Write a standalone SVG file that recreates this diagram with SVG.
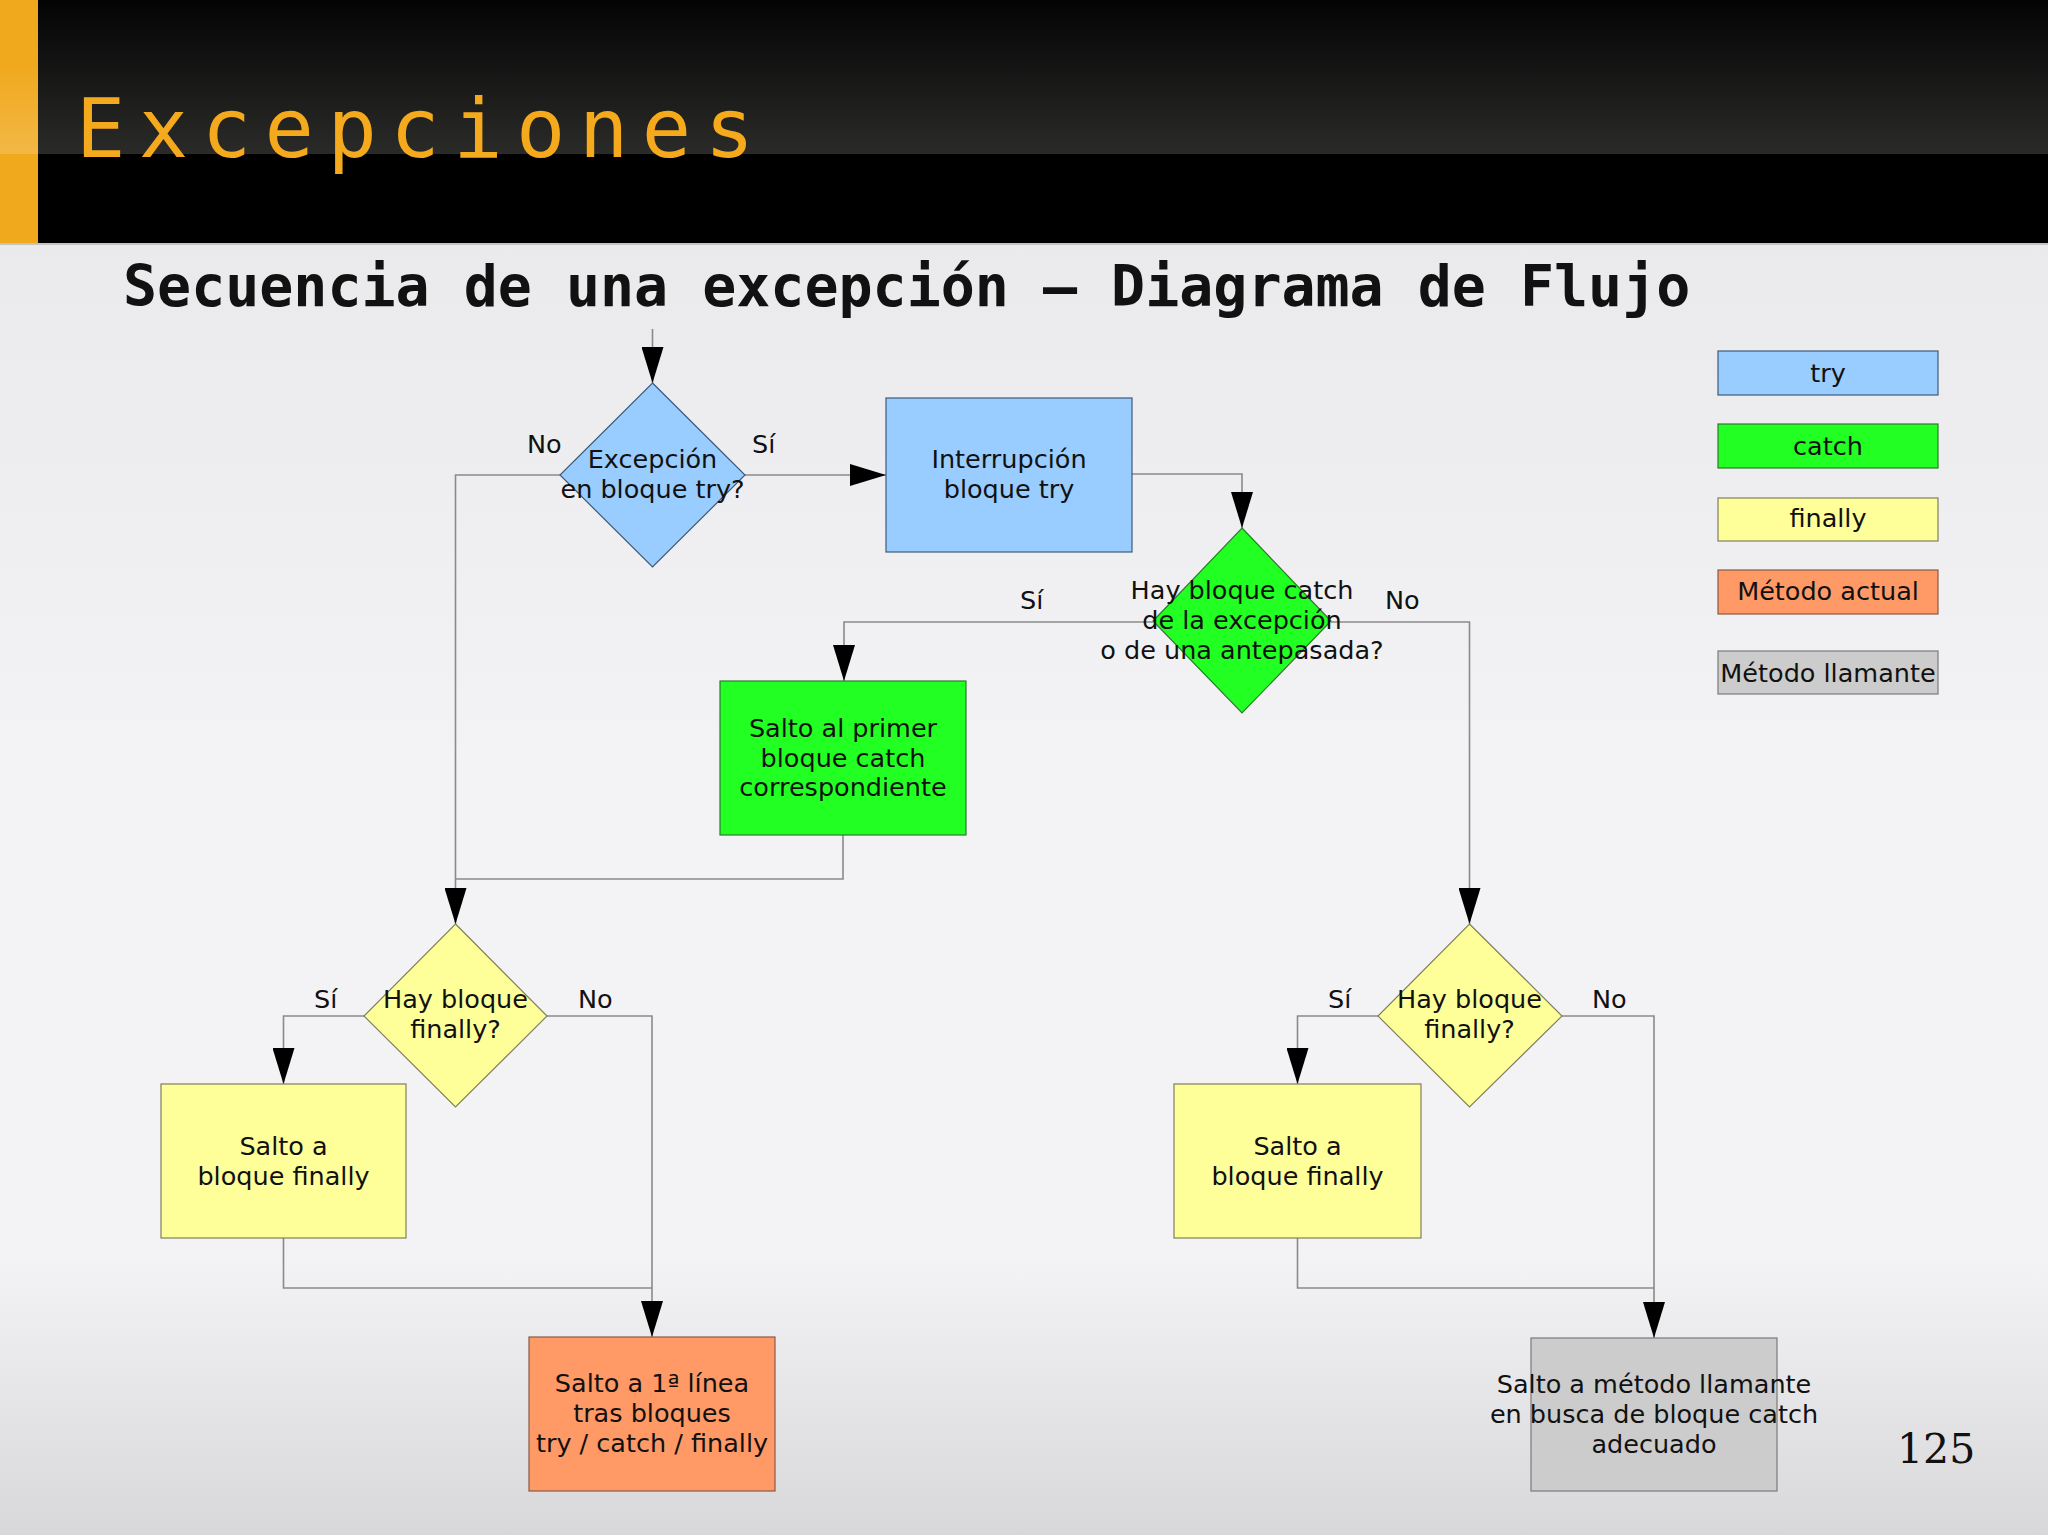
<svg xmlns="http://www.w3.org/2000/svg" width="2048" height="1535" viewBox="0 0 2048 1535">
<defs>
<linearGradient id="bg" x1="0" y1="0" x2="0" y2="1">
<stop offset="0" stop-color="#e6e6e8"/>
<stop offset="0.5" stop-color="#f3f3f5"/>
<stop offset="0.82" stop-color="#f3f3f5"/>
<stop offset="1" stop-color="#d8d8da"/>
</linearGradient>
<linearGradient id="hdr" x1="0" y1="0" x2="0" y2="1">
<stop offset="0" stop-color="#030403"/>
<stop offset="1" stop-color="#2a2b29"/>
</linearGradient>
<linearGradient id="orgl" x1="0" y1="0" x2="0" y2="1">
<stop offset="0" stop-color="#ffffff" stop-opacity="0"/>
<stop offset="1" stop-color="#ffffff" stop-opacity="0.18"/>
</linearGradient>
<marker id="arr" viewBox="0 0 36 22" refX="36" refY="11" markerWidth="36" markerHeight="22" markerUnits="userSpaceOnUse" orient="auto">
<path d="M0,0 L36,11 L0,22 Z" fill="#000"/>
</marker>
<style>
.t{font-family:"DejaVu Sans","Noto Sans",sans-serif;font-size:25.5px;fill:#111;text-anchor:middle}
.l{font-family:"DejaVu Sans","Noto Sans",sans-serif;font-size:25.5px;fill:#111}
.c{fill:none;stroke:#8a8a8a;stroke-width:1.6}
.ca{fill:none;stroke:#8a8a8a;stroke-width:1.6;marker-end:url(#arr)}
.try{fill:#99ccff;stroke:#3c5a78;stroke-width:1.2}
.catch{fill:#22ff22;stroke:#2d7a2d;stroke-width:1.2}
.fin{fill:#ffff99;stroke:#7f7f60;stroke-width:1.2}
.act{fill:#ff9966;stroke:#8a5a44;stroke-width:1.2}
.llam{fill:#cccccc;stroke:#7a7a7a;stroke-width:1.2}
</style>
</defs>
<rect x="0" y="0" width="2048" height="1535" fill="url(#bg)"/>
<g id="header">
<rect x="0" y="0" width="2048" height="154" fill="url(#hdr)"/>
<rect x="0" y="154" width="2048" height="89" fill="#000"/>
<rect x="0" y="243" width="2048" height="2" fill="#c4c4c4"/>
<rect x="0" y="0" width="38" height="243" fill="#f0a81c"/>
<rect x="0" y="60" width="38" height="94" fill="url(#orgl)"/>
<text x="76" y="157" font-family="'DejaVu Sans Mono','Liberation Mono',monospace" font-size="82" letter-spacing="13.5" fill="#f5a91c">Excepciones</text>
</g>
<text x="123" y="306" font-family="'DejaVu Sans Mono','Liberation Mono',monospace" font-size="56.6" font-weight="bold" fill="#111">Secuencia de una excepción – Diagrama de Flujo</text>

<g id="connectors">
<path class="ca" d="M652.5,329 L652.5,383"/>
<path class="ca" d="M745,475 L886,475"/>
<path class="ca" d="M1132,474 L1242,474 L1242,528"/>
<path class="ca" d="M1153,622 L844,622 L844,681"/>
<path class="ca" d="M1331,622 L1469.5,622 L1469.5,924"/>
<path class="ca" d="M560,475 L455.5,475 L455.5,924"/>
<path class="c" d="M843,835 L843,879 L455.5,879"/>
<path class="ca" d="M364,1016 L283.5,1016 L283.5,1084"/>
<path class="ca" d="M547,1016 L652,1016 L652,1337"/>
<path class="c" d="M283.5,1238 L283.5,1288 L652,1288"/>
<path class="ca" d="M1378,1016 L1297.5,1016 L1297.5,1084"/>
<path class="ca" d="M1562,1016 L1654,1016 L1654,1338"/>
<path class="c" d="M1297.5,1238 L1297.5,1288 L1654,1288"/>
</g>

<g id="labels">
<text class="l" x="527" y="453">No</text>
<text class="l" x="752" y="453">Sí</text>
<text class="l" x="1020" y="609">Sí</text>
<text class="l" x="1385" y="609">No</text>
<text class="l" x="314" y="1008">Sí</text>
<text class="l" x="578" y="1008">No</text>
<text class="l" x="1328" y="1008">Sí</text>
<text class="l" x="1592" y="1008">No</text>
</g>

<g id="d_try">
<path class="try" d="M652.5,383 L745,475 L652.5,567 L560,475 Z"/>
<text class="t" x="652.5" y="468">Excepción</text>
<text class="t" x="652.5" y="498">en bloque try?</text>
</g>
<g id="r_interrupcion">
<rect class="try" x="886" y="398" width="246" height="154"/>
<text class="t" x="1009" y="468">Interrupción</text>
<text class="t" x="1009" y="498">bloque try</text>
</g>
<g id="d_catch">
<path class="catch" d="M1242,528 L1331,621 L1242,713 L1153,621 Z"/>
<text class="t" x="1242" y="599">Hay bloque catch</text>
<text class="t" x="1242" y="629">de la excepción</text>
<text class="t" x="1242" y="659">o de una antepasada?</text>
</g>
<g id="r_catch">
<rect class="catch" x="720" y="681" width="246" height="154"/>
<text class="t" x="843" y="737">Salto al primer</text>
<text class="t" x="843" y="767">bloque catch</text>
<text class="t" x="843" y="796">correspondiente</text>
</g>
<g id="d_fin_left">
<path class="fin" d="M455.5,924 L547,1016 L455.5,1107 L364,1016 Z"/>
<text class="t" x="455.5" y="1008">Hay bloque</text>
<text class="t" x="455.5" y="1038">finally?</text>
</g>
<g id="r_fin_left">
<rect class="fin" x="161" y="1084" width="245" height="154"/>
<text class="t" x="283.5" y="1155">Salto a</text>
<text class="t" x="283.5" y="1185">bloque finally</text>
</g>
<g id="d_fin_right">
<path class="fin" d="M1469.5,924 L1562,1016 L1469.5,1107 L1378,1016 Z"/>
<text class="t" x="1469.5" y="1008">Hay bloque</text>
<text class="t" x="1469.5" y="1038">finally?</text>
</g>
<g id="r_fin_right">
<rect class="fin" x="1174" y="1084" width="247" height="154"/>
<text class="t" x="1297.5" y="1155">Salto a</text>
<text class="t" x="1297.5" y="1185">bloque finally</text>
</g>
<g id="r_actual">
<rect class="act" x="529" y="1337" width="246" height="154"/>
<text class="t" x="652" y="1392">Salto a 1ª línea</text>
<text class="t" x="652" y="1422">tras bloques</text>
<text class="t" x="652" y="1452">try / catch / finally</text>
</g>
<g id="r_llamante">
<rect class="llam" x="1531" y="1338" width="246" height="153"/>
<text class="t" x="1654" y="1393">Salto a método llamante</text>
<text class="t" x="1654" y="1423">en busca de bloque catch</text>
<text class="t" x="1654" y="1453">adecuado</text>
</g>

<g id="legend">
<rect class="try" x="1718" y="351" width="220" height="44"/>
<text class="t" x="1828" y="382">try</text>
<rect class="catch" x="1718" y="424" width="220" height="44"/>
<text class="t" x="1828" y="455">catch</text>
<rect class="fin" x="1718" y="498" width="220" height="43"/>
<text class="t" x="1828" y="527">finally</text>
<rect class="act" x="1718" y="570" width="220" height="44"/>
<text class="t" x="1828" y="600">Método actual</text>
<rect class="llam" x="1718" y="651" width="220" height="43"/>
<text class="t" x="1828" y="682">Método llamante</text>
</g>
<text x="1897" y="1463" font-family="'DejaVu Serif','Liberation Serif',serif" font-size="41" fill="#111">125</text>
</svg>
